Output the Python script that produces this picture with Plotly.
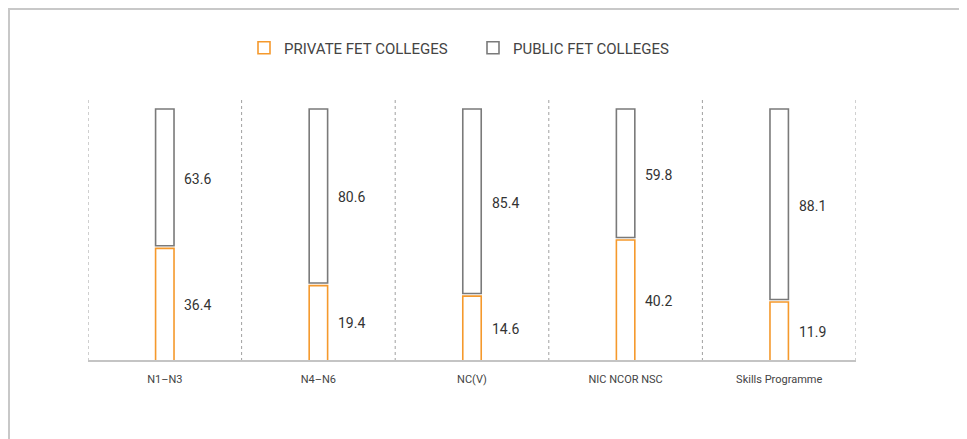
import plotly.graph_objects as go

categories = ["N1–N3", "N4–N6", "NC(V)", "NIC NCOR NSC", "Skills Programme"]
private = [36.4, 19.4, 14.6, 40.2, 11.9]
public = [63.6, 80.6, 85.4, 59.8, 88.1]

OFFSET = 15.0   # visual floor below zero used by the original chart
GAP = 1.2       # small visual gap between stacked segments
ORANGE = "#f5992c"
GREY = "#7a7a7a"
NUM_FONT = "Liberation Sans Narrow, Arial Narrow, Roboto, sans-serif"
TXT_FONT = "Roboto, Arial, sans-serif"

W, H = 959, 431
ML, MR, MT, MB = 80, 111, 89, 78
PW, PH = W - ML - MR, H - MT - MB

fig = go.Figure()
fig.add_trace(go.Bar(
    name="PRIVATE FET COLLEGES",
    x=categories,
    y=[v + OFFSET for v in private],
    base=[-OFFSET] * len(private),
    width=0.12,
    marker=dict(color="white", line=dict(color=ORANGE, width=1.6)),
    hoverinfo="skip",
))
fig.add_trace(go.Bar(
    name="PUBLIC FET COLLEGES",
    x=categories,
    y=[pu - GAP for pu in public],
    base=[pr + GAP for pr in private],
    width=0.12,
    marker=dict(color="white", line=dict(color=GREY, width=1.6)),
    hoverinfo="skip",
))

annotations = []
for i, c in enumerate(categories):
    pr, pu = private[i], public[i]
    annotations.append(dict(x=c, y=(-OFFSET + pr) / 2, text=f"{pr}", showarrow=False,
                            xshift=33, font=dict(family=NUM_FONT, size=14, color="#333")))
    annotations.append(dict(x=c, y=(pr + 100) / 2, text=f"{pu}", showarrow=False,
                            xshift=33, font=dict(family=NUM_FONT, size=14, color="#333")))

shapes = []
for i in range(len(categories) + 1):
    shapes.append(dict(type="line", xref="x", yref="paper", x0=i - 0.5, x1=i - 0.5,
                       y0=0, y1=1, line=dict(color="#a0a0a0", width=1, dash="3px,3px")))
# baseline
shapes.append(dict(type="line", xref="paper", yref="paper", x0=0, x1=1, y0=0, y1=0,
                   line=dict(color="#c4c4c4", width=2)))
# outer frame (top and left edges visible)
shapes.append(dict(type="rect", xref="paper", yref="paper",
                   x0=(1 - ML) / PW, x1=(1100 - ML) / PW,
                   y0=(H - MB - 600) / PH, y1=(H - MB - 1) / PH,
                   line=dict(color="#c8c8c8", width=2), layer="below"))

fig.update_layout(
    width=W, height=H,
    margin=dict(l=ML, r=MR, t=MT, b=MB),
    barmode="overlay",
    plot_bgcolor="white", paper_bgcolor="white",
    showlegend=True,
    legend=dict(orientation="h", x=156 / PW, xanchor="left",
                y=(PH + 49) / PH, yanchor="middle",
                font=dict(family=TXT_FONT, size=15, color="#444"),
                entrywidth=184, entrywidthmode="pixels", traceorder="normal"),
    xaxis=dict(showgrid=False, showline=False, zeroline=False, ticks="",
               range=[-0.5, len(categories) - 0.5], ticklabelstandoff=10,
               tickfont=dict(family=TXT_FONT, size=11, color="#444")),
    yaxis=dict(range=[-OFFSET, 105.5], visible=False, showgrid=False, zeroline=False),
    annotations=annotations,
    shapes=shapes,
)
fig.write_html("out.html")
